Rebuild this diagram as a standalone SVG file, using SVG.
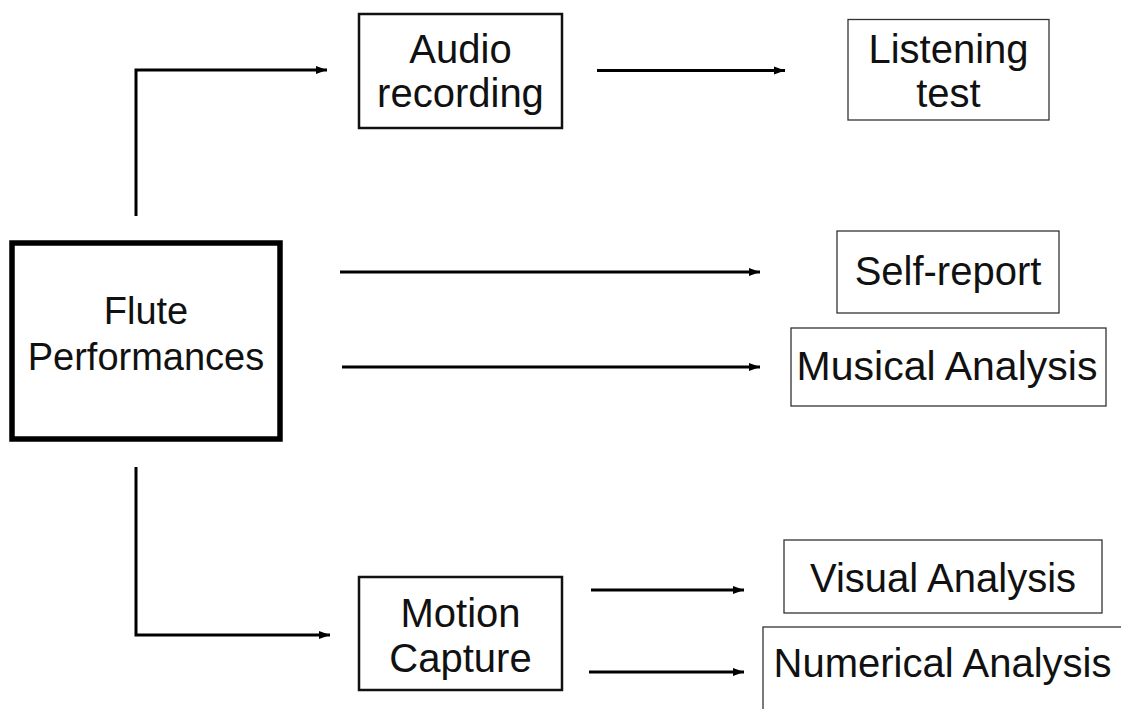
<svg xmlns="http://www.w3.org/2000/svg" width="1121" height="709" viewBox="0 0 1121 709">
  <style>
    .lbl { font-family: "Liberation Sans", Arial, Helvetica, sans-serif; font-size: 40px; fill: #111; text-anchor: middle; }
    .main { font-size: 38px; }
    .wide { font-size: 41px; }
    .thick { fill: #fff; stroke: #000; stroke-width: 5.5; }
    .mid { fill: #fff; stroke: #111; stroke-width: 2.5; }
    .thin { fill: #fff; stroke: #333; stroke-width: 1.3; }
    .conn { fill: none; stroke: #000; stroke-width: 3; marker-end: url(#arrow); }
  </style>
  <defs>
    <marker id="arrow" markerUnits="userSpaceOnUse" markerWidth="12" markerHeight="10" refX="11" refY="5" orient="auto">
      <path d="M0,1 L11,5 L0,9 z" fill="#000"/>
    </marker>
  </defs>

  <rect width="1121" height="709" fill="#fff"/>

  <g id="connectors">
    <path class="conn" d="M136,216 V70 H327"/>
    <path class="conn" d="M597,70.5 H785"/>
    <path class="conn" d="M340,272 H760"/>
    <path class="conn" d="M342,367 H760"/>
    <path class="conn" d="M136,467 V635 H330"/>
    <path class="conn" d="M591,590 H744"/>
    <path class="conn" d="M589,672 H744"/>
  </g>

  <g id="flute-performances">
    <rect class="thick" x="12" y="243" width="268" height="196"/>
    <text class="lbl main" x="146" y="324">Flute</text>
    <text class="lbl main" x="146" y="370">Performances</text>
  </g>

  <g id="audio-recording">
    <rect class="mid" x="359" y="14" width="203" height="114"/>
    <text class="lbl" x="460.5" y="63">Audio</text>
    <text class="lbl" x="460.5" y="107">recording</text>
  </g>

  <g id="listening-test">
    <rect class="thin" x="848" y="19.5" width="201" height="100.5"/>
    <text class="lbl" x="948.5" y="63">Listening</text>
    <text class="lbl" x="948.5" y="107">test</text>
  </g>

  <g id="self-report">
    <rect class="thin" x="837" y="231" width="222" height="82"/>
    <text class="lbl" x="948" y="285">Self-report</text>
  </g>

  <g id="musical-analysis">
    <rect class="thin" x="791" y="328" width="315" height="78"/>
    <text class="lbl wide" x="947" y="380">Musical Analysis</text>
  </g>

  <g id="motion-capture">
    <rect class="mid" x="359" y="577" width="203" height="113"/>
    <text class="lbl" x="460.5" y="627">Motion</text>
    <text class="lbl" x="460.5" y="672">Capture</text>
  </g>

  <g id="visual-analysis">
    <rect class="thin" x="784" y="540" width="318" height="73"/>
    <text class="lbl" x="943" y="592">Visual Analysis</text>
  </g>

  <g id="numerical-analysis">
    <rect class="thin" x="763" y="627" width="380" height="100"/>
    <text class="lbl" x="942.5" y="677">Numerical Analysis</text>
  </g>
</svg>
